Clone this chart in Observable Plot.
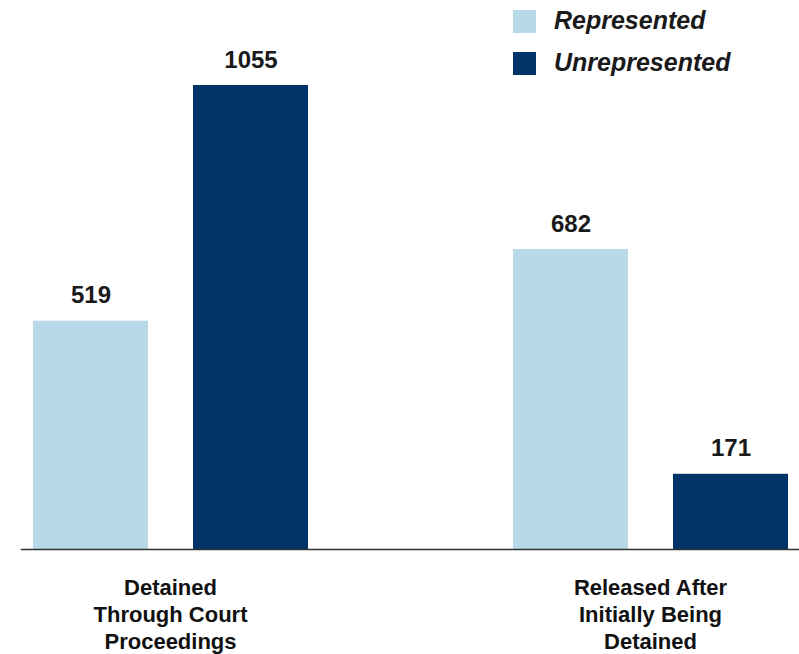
<!DOCTYPE html>
<html><head><meta charset="utf-8">
<script src="https://cdn.jsdelivr.net/npm/d3@7"></script>
<script src="https://cdn.jsdelivr.net/npm/@observablehq/plot@0.6"></script>
<style>
body{margin:0;background:#fff;}
#chart{position:relative;width:799px;height:654px;font-family:"Liberation Sans",Arial,sans-serif;}
#legend{position:absolute;left:513px;top:10px;width:286px;}
.lg-swatches{font:italic bold 25px "Liberation Sans",Arial,sans-serif !important;color:#1a1a1a;margin:0 !important;}
.lg-swatch{padding-bottom:19px !important;line-height:23px;}
.lg-swatch > svg{margin-right:18px !important;}
.lg-swatch-label{overflow:visible !important;position:relative;top:-1px;}
</style></head><body>
<div id="chart"><div id="legend"></div></div>
<script>
const groups = ["Detained\nThrough Court\nProceedings", "Released After\nInitially Being\nDetained"];
const series = ["Represented", "Unrepresented"];
const represented = [519, 682];
const unrepresented = [1055, 171];
const colors = ["#b8d9e8", "#003468"];

const data = groups.flatMap((g, i) => [
  {group: g, series: series[0], value: represented[i]},
  {group: g, series: series[1], value: unrepresented[i]}
]);

function build(useSuper) {
  return Plot.plot({
    width: 799, height: 654,
    marginLeft: 10, marginRight: 0, marginTop: 85, marginBottom: 105,
    style: {fontFamily: "'Liberation Sans', Arial, sans-serif", color: "#1a1a1a", background: "#fff"},
    fx: {domain: groups, paddingInner: 0.37981, paddingOuter: 0.010926, align: 1, label: null},
    x: {domain: series, paddingInner: 0.28125, paddingOuter: 0.071875, axis: null},
    y: {domain: [0, d3.max(data, d => d.value)], axis: null},
    color: {domain: series, range: colors},
    marks: [
      Plot.barY(data, {fx: "group", x: "series", y: "value", fill: "series"}),
      Plot.text(data, {fx: "group", x: "series", y: "value", text: d => String(d.value),
        lineAnchor: "bottom", dy: -18, fontSize: 24, fontWeight: "bold", fill: "#1a1a1a"}),
      Plot.axisFx({anchor: "bottom", tickSize: 0, tickPadding: 26, fontSize: 22, fontWeight: "bold",
        lineHeight: 1.23, label: null, fill: "#111"}),
      useSuper
        ? Plot.frame({anchor: "bottom", facet: "super", stroke: "#333", strokeWidth: 1.5})
        : Plot.ruleY([0], {stroke: "#333", strokeWidth: 1.5})
    ]
  });
}
let chart;
try { chart = build(true); } catch (e) { console.error(e); chart = build(false); }
document.getElementById("chart").prepend(chart);

const legend = Plot.legend({color: {domain: series, range: colors}, className: "lg", columns: 1, swatchSize: 23});
document.getElementById("legend").appendChild(legend);
</script>
</body></html>
